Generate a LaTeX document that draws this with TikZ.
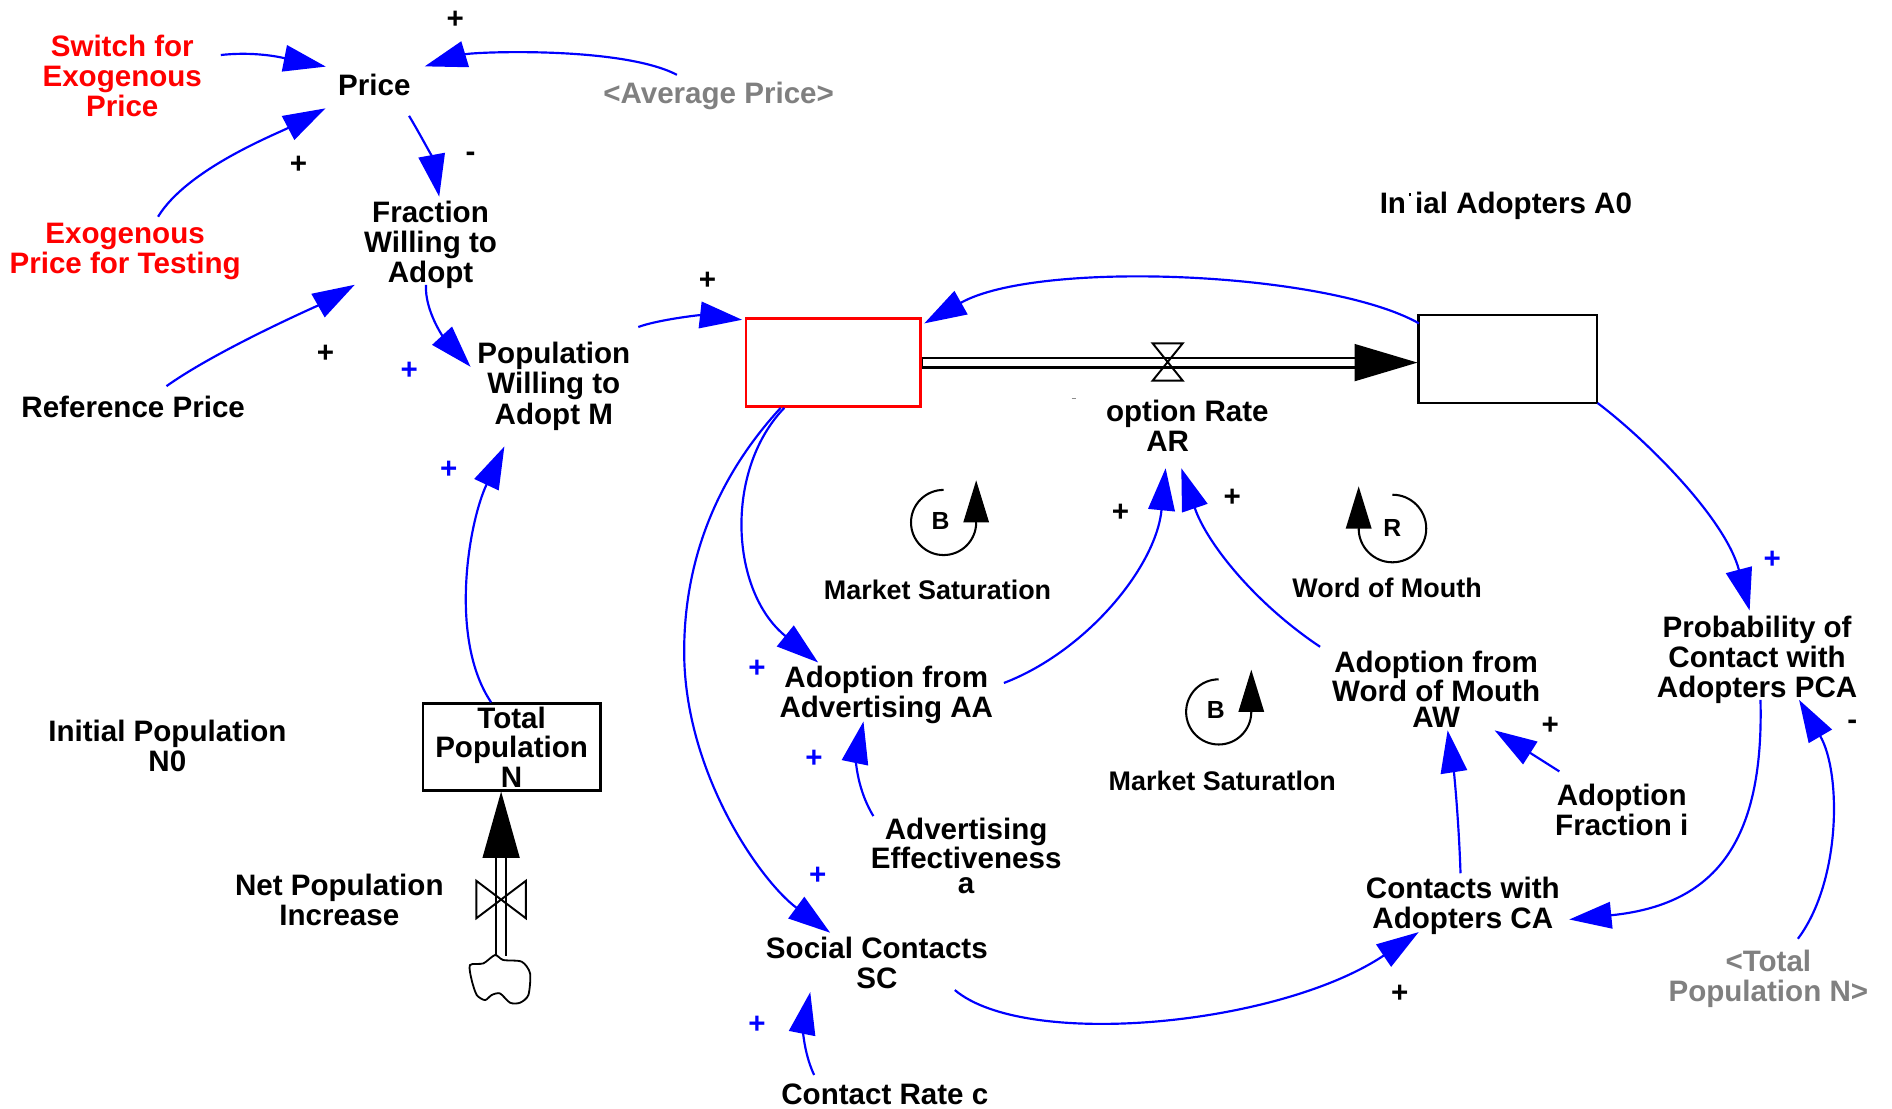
\documentclass[tikz,border=0pt]{standalone}
\usepackage{fontspec}
\setmainfont{Liberation Sans}
\usetikzlibrary{arrows.meta,calc}
\newcommand\labfont{\fontsize{24.5}{25}\selectfont\bfseries}
\newcommand\loopnamefont{\fontsize{22.3}{24}\selectfont\bfseries}
\newcommand\loopfont{\fontsize{20.5}{22}\selectfont\bfseries}
\begin{document}
\begin{tikzpicture}[x=1pt,y=-1pt,
  lab/.style={inner sep=0pt,align=center,font=\labfont},
  loopname/.style={inner sep=0pt,font=\loopnamefont},
  exog/.style={lab,text=red},
  ghost/.style={lab,text=black!50},
  sgn/.style={inner sep=0pt,font=\labfont},
  bsgn/.style={sgn,text=blue},
  stock/.style={draw,line width=2pt,inner sep=0pt,minimum width=#1,minimum height=73pt},
  link/.style={draw=blue,line width=1.8pt,-{Triangle[length=35pt,width=22pt]}},
  loopline/.style={line width=1.7pt},
  looptip/.style={line width=1.7pt,-{Triangle[length=35pt,width=21pt]}},
  pipeouter/.style={line width=10pt},
  pipeinner/.style={white,line width=5.6pt},
  valve/.style={line width=1.6pt}
]
\fill[white] (0,0) rectangle (1568,919);
\path[use as bounding box] (0,0) rectangle (1568,919);

% ---- auxiliaries and stocks ----
\node[exog] (sw) at (101.3,63) {Switch for\\Exogenous\\Price};
\node[lab] (price) at (310.2,70.4) {Price};
\node[ghost] (avg) at (595.6,79.2) {<Average Price>};
\node[exog] (exo) at (103.7,208.4) {Exogenous\\Price for Testing};
\node[lab] (fwa) at (356.8,203) {Fraction\\Willing to\\Adopt};
\node[lab] (ref) at (110.4,337) {Reference Price};
\node[lab] (pwa) at (459,320.1) {Population\\Willing to\\Adopt M};
\node[stock=145pt,draw=red] (pot) at (690.5,300.5) {};
\node[stock=148pt] (adp) at (1249.7,297.7) {};
\node[lab] (a0) at (1248,170.9) {In\hspace{2.8pt}\rule[14.5pt]{1.7pt}{3pt}\hspace{3.1pt}ial Adopters A0};
\node[lab] (ar) at (967.7,352.7) {\hphantom{Ad}option Rate\\AR};
\node[loopname] (ms1) at (777,489) {Market Saturation};
\node[loopname] (wom) at (1149.5,487.6) {Word of Mouth};
\node[lab] (pca) at (1456.2,546.7) {Probability of\\Contact with\\Adopters PCA};
\node[lab] (aa) at (734.5,576.1) {Adoption from\\Advertising AA};
\node[lab,font=\fontsize{24.5}{20.5}\selectfont\bfseries] (ae) at (800.7,709.4) {Advertising\\Effectiveness\\a};
\node[loopname] (ms2) at (1013,646.8) {Market Saturatlon};
\node[lab,font=\fontsize{24.5}{22}\selectfont\bfseries] (aw) at (1190.2,571.2) {Adoption from\\Word of Mouth\\AW};
\node[lab] (af) at (1344,671.4) {Adoption\\Fraction i};
\node[lab] (ca) at (1212.3,750.7) {Contacts with\\Adopters CA};
\node[ghost] (tpn) at (1465.5,811.4) {<Total\\Population N>};
\node[lab] (sc) at (726.7,797.7) {Social Contacts\\SC};
\node[lab] (cr) at (733.3,907.2) {Contact Rate c};
\node[lab] (n0) at (138.7,618.1) {Initial Population\\N0};
\node[stock=147pt,minimum height=72pt,lab,font=\fontsize{24.5}{24.5}\selectfont\bfseries] (tp) at (424,619) {Total\\Population\\N};
\node[lab] (npi) at (281.2,745.6) {Net Population\\Increase};

% remnant of the hidden letters in the rate name
\draw[black!45,line width=0.8pt] ($(ar)+(-79.7,-22.7)$) -- ++(4,0);

% ---- polarity signs ----
\node[sgn] (pl1) at (377.3,16.2) {+};
\node[sgn] (pl2) at (247.4,136.4) {+};
\node[sgn] (pl3) at (269.7,293) {+};
\node[sgn] (pl4) at (586.4,233) {+};
\node[sgn] (pl5) at (928.6,425) {+};
\node[sgn] (pl6) at (1021.3,412.6) {+};
\node[sgn] (pl7) at (1284.8,601.9) {+};
\node[sgn] (pl8) at (1160,823.9) {+};
\node[bsgn] (pb1) at (339.2,307.6) {+};
\node[bsgn] (pb2) at (371.8,389.6) {+};
\node[bsgn] (pb3) at (1468.8,464.2) {+};
\node[bsgn] (pb4) at (627.4,554.5) {+};
\node[bsgn] (pb5) at (674.7,628.5) {+};
\node[bsgn] (pb6) at (677.7,726.2) {+};
\node[bsgn] (pb7) at (627.4,849) {+};
\node[sgn] (mi1) at (390,129.7) {-};
\node[sgn] (mi2) at (1535,600.6) {-};

% ---- loop markers ----
\node[inner sep=0pt,font=\loopfont] (lb1) at (779.5,431.5) {B};
\draw[loopline] ($(lb1)+(2.5,-25.5)$) arc[start angle=-90,end angle=-360,radius=27];
\draw[looptip] ($(lb1)+(29.5,1.5)$) -- ++(0,-35);
\node[inner sep=0pt,font=\loopfont] (lr) at (1153.9,437.9) {R};
\draw[loopline] ($(lr)+(0.1,-27.9)$) arc[start angle=-90,end angle=180,radius=28];
\draw[looptip] ($(lr)+(-27.9,0.1)$) -- ++(0,-35);
\node[inner sep=0pt,font=\loopfont] (lb2) at (1007.5,588.5) {B};
\draw[loopline] ($(lb2)+(2.5,-25.5)$) arc[start angle=-90,end angle=-360,radius=27];
\draw[looptip] ($(lb2)+(29.5,1.5)$) -- ++(0,-35);

% ---- adoption flow between the stocks ----
\coordinate (tipA) at (adp.west |- pot.east);
\draw[pipeouter] (pot.east) -- ($(tipA)+(-52,0)$);
\draw[pipeinner] ($(pot.east)+(1.2,0)$) -- ($(tipA)+(-52,0)$);
\fill (tipA) -- ++(-52,-15.5) -- ++(0,31) -- cycle;
\coordinate (arv) at (ar |- pot.east);
\draw[valve] ($(arv)+(-12.5,-16)$) -- ++(25,0) -- ++(-25,31) -- ++(25,0) -- cycle;

% ---- population inflow from the cloud ----
\coordinate (tipN) at ($(tp.south)+(-8.7,0)$);
\draw[pipeouter,line width=10.5pt] ($(tipN)+(0,54)$) -- ($(tipN)+(0,136)$);
\draw[pipeinner,line width=6.7pt] ($(tipN)+(0,53)$) -- ($(tipN)+(0,137)$);
\fill (tipN) -- ++(-15.5,55) -- ++(31,0) -- cycle;
\draw[valve] ($(tipN)+(-20.5,74)$) -- ++(41,31) -- ++(0,-31) -- ++(-41,31) -- cycle;
\draw[line width=1.5pt,fill=white] plot[smooth cycle,tension=0.45] coordinates {
  (410.2,791.5) (417.1,795.6) (432.4,797.0) (439.3,806.7) (437.9,824.6)
  (431.0,831.0) (422.7,831.0) (414.4,823.3) (407.5,824.6) (402.0,828.8)
  (395.1,824.6) (390.9,812.2) (389.5,799.8) (400.6,798.4)};

% ---- causal links ----
\draw[link] ($(sw)+(81.7,-17.4)$) .. controls +(32,-3.6) and +(-30,-6) .. ($(price)+(-40.2,-15.2)$);
\draw[link] ($(avg)+(-34.6,-17.2)$) .. controls +(-46,-24) and +(40,-12) .. ($(price)+(41.8,-15.4)$);
\draw[link] ($(exo)+(27.3,-28.8)$) .. controls +(24,-39.6) and +(-40,21) .. ($(price)+(-40.5,19.4)$);
\draw[link] ($(price)+(28.8,25.6)$) .. controls +(9,15) and +(-6,-33) .. ($(fwa)+(7.2,-40)$);
\draw[link] ($(ref)+(27.6,-17)$) .. controls +(42,-30) and +(-30,17) .. ($(fwa)+(-62.8,33)$);
\draw[link] ($(fwa)+(-3.8,33)$) .. controls +(-1,22) and +(-22,-24) .. ($(pwa)+(-69,-16.1)$);
\draw[link] ($(pwa)+(70,-49.1)$) .. controls +(16,-6) and +(-35,-4) .. ($(pot)+(-75.5,-35.5)$);
\draw[link] ($(tp)+(-17,-37)$) .. controls +(-35,-52) and +(-30,64) .. ($(pwa)+(-41,49.9)$);
\draw[link] ($(adp)+(-73.7,-29.7)$) .. controls +(-76,-43) and +(94,-53) .. ($(pot)+(75.5,-32.5)$);
\draw[link] ($(pot)+(-40.5,37.5)$) .. controls +(-50,52) and +(-73,-59) .. ($(aa)+(-56.5,-27.1)$);
\draw[link] ($(pot)+(-43.5,37.5)$) .. controls +(-57,62) and +(0,-70) .. ++(-80,202)
  .. controls +(0,100) and +(-58,-43) .. ($(sc)+(-38.7,-24.7)$);
\draw[link] ($(aa)+(97.5,-10.1)$) .. controls +(68,-26) and +(-8,82) .. ($(ar)+(-1.7,35.3)$);
\draw[link] ($(aw)+(-96.2,-35.2)$) .. controls +(-54,-36) and +(21,62) .. ($(ar)+(11.3,35.3)$);
\draw[link] ($(adp)+(74.3,36.3)$) .. controls +(41,31) and +(-20,-76) .. ($(pca)+(-6.2,-40.7)$);
\draw[link] ($(pca)+(2.8,33.3)$) .. controls +(3,120) and +(119.5,-12) .. ($(ca)+(88.2,11.3)$);
\draw[link] ($(tpn)+(24.5,-33.4)$) .. controls +(36,-48) and +(35,60) .. ($(pca)+(34.8,33.3)$);
\draw[link] ($(af)+(-51.7,-32.1)$) -- ($(aw)+(48.5,34.1)$);
\draw[link] ($(ca)+(-1.9,-27)$) .. controls +(-1.4,-43.7) and +(5.3,34.7) .. ($(aw)+(9.5,34.1)$);
\draw[link] ($(ae)+(-76.9,-33.1)$) .. controls +(-15.8,-26.3) and +(-5.6,27.1) .. ($(aa)+(-18.9,21.8)$);
\draw[link] ($(sc)+(64.6,22.8)$) .. controls +(58.7,49.5) and +(-115.7,77.5) .. ($(ca)+(-36.6,21.8)$);
\draw[link] ($(cr)+(-58.6,-16.3)$) .. controls +(-9.7,-20.9) and +(-5.5,27.8) .. ($(sc)+(-55.2,24.5)$);
\end{tikzpicture}
\end{document}
